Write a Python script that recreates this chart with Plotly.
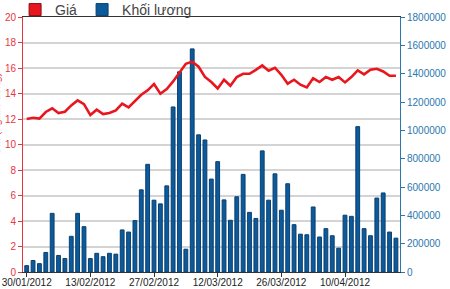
import plotly.graph_objects as go

dates = [
    "30/01/2012", "31/01/2012",
    "01/02/2012", "02/02/2012", "03/02/2012", "06/02/2012", "07/02/2012", "08/02/2012",
    "09/02/2012", "10/02/2012", "13/02/2012", "14/02/2012", "15/02/2012", "16/02/2012",
    "17/02/2012", "20/02/2012", "21/02/2012", "22/02/2012", "23/02/2012", "24/02/2012",
    "27/02/2012", "28/02/2012", "29/02/2012",
    "01/03/2012", "02/03/2012", "05/03/2012", "06/03/2012", "07/03/2012", "08/03/2012",
    "09/03/2012", "12/03/2012", "13/03/2012", "14/03/2012", "15/03/2012", "16/03/2012",
    "19/03/2012", "20/03/2012", "21/03/2012", "22/03/2012", "23/03/2012", "26/03/2012",
    "27/03/2012", "28/03/2012", "29/03/2012", "30/03/2012",
    "03/04/2012", "04/04/2012", "05/04/2012", "06/04/2012", "09/04/2012", "10/04/2012",
    "11/04/2012", "12/04/2012", "13/04/2012", "16/04/2012", "17/04/2012", "18/04/2012",
    "19/04/2012", "20/04/2012",
]

price = [
    12.0, 12.1, 12.03, 12.55, 12.84, 12.47, 12.57, 13.07, 13.46, 13.17,
    12.31, 12.73, 12.39, 12.47, 12.68, 13.2, 12.91, 13.38, 13.9, 14.25,
    14.74, 13.98, 14.35, 14.95, 15.65, 16.33, 16.5, 16.1, 15.3, 14.9,
    14.4, 15.08, 14.61, 15.29, 15.55, 15.55, 15.86, 16.2, 15.79, 16.02,
    15.47, 14.77, 15.08, 14.69, 14.48, 15.19, 14.9, 15.29, 15.08, 15.29,
    14.87, 15.29, 15.81, 15.5, 15.86, 15.94, 15.73, 15.39, 15.39,
]

volume = [
    45000, 81000, 59000, 138000, 414000, 117000, 95000, 252000, 414000, 320000,
    95000, 132000, 108000, 132000, 126000, 297000, 282000, 363000, 580000, 760000,
    507000, 481000, 608000, 1165000, 1413000, 161000, 1575000, 968000, 932000, 656000,
    779000, 509000, 365000, 531000, 689000, 421000, 378000, 855000, 507000, 693000,
    436000, 623000, 334000, 267000, 263000, 459000, 247000, 306000, 256000, 168000,
    401000, 393000, 1026000, 306000, 256000, 522000, 558000, 282000, 239000,
]

tick_dates = ["30/01/2012", "13/02/2012", "27/02/2012", "12/03/2012", "26/03/2012", "10/04/2012"]
price_ticks = [0, 2, 4, 6, 8, 10, 12, 14, 16, 18, 20]
volume_ticks = [0, 200000, 400000, 600000, 800000, 1000000, 1200000, 1400000, 1600000, 1800000]

RED = "#e8161e"
BLUE = "#0b5a9c"
RED_TXT = "#e8353b"
BLUE_TXT = "#2a78ad"

fig = go.Figure()

fig.add_trace(go.Bar(
    x=dates, y=volume, name="Khối lượng",
    marker=dict(color=BLUE, line=dict(width=1, color="#0a3f6e")),
    yaxis="y", legendrank=2, width=0.6,
))
fig.add_trace(go.Scatter(
    x=dates, y=price, name="Giá", mode="lines", line=dict(color=RED, width=2.6),
    yaxis="y2", showlegend=False,
))
# legend-only entry so that "Giá" shows as a square swatch like the original
fig.add_trace(go.Bar(
    x=[None], y=[None], name="Giá", marker=dict(color=RED, line=dict(width=1, color="#8a0d12")),
    yaxis="y2", legendrank=1,
))

fig.update_layout(
    width=450, height=289,
    margin=dict(l=23, r=50, t=17, b=17, autoexpand=False),
    paper_bgcolor="white", plot_bgcolor="white",
    barmode="overlay",
    font=dict(family="Liberation Sans, Arial, sans-serif", size=10, color="#222"),
    showlegend=True,
    legend=dict(
        orientation="h", xref="paper", yref="paper",
        x=-0.021, xanchor="left", y=1.0275, yanchor="middle",
        font=dict(size=14, color="#444"), bgcolor="rgba(0,0,0,0)",
        itemwidth=30, tracegroupgap=0,
    ),
    xaxis=dict(
        type="category", range=[-0.58, 58.64], automargin=False,
        tickmode="array", tickvals=tick_dates, ticktext=tick_dates,
        ticks="outside", ticklen=4, tickcolor="#333", ticklabelstandoff=-3,
        showline=True, linecolor="#333", linewidth=1, mirror=True,
        showgrid=False, tickfont=dict(size=10, color="#222"),
    ),
    yaxis=dict(
        side="right", range=[0, 1800000], tickvals=volume_ticks, automargin=False,
        tickformat="d", showgrid=False, zeroline=False,
        showline=True, linecolor=BLUE_TXT, linewidth=1,
        ticks="outside", ticklen=4, tickcolor=BLUE_TXT,
        tickfont=dict(size=10, color=BLUE_TXT),
    ),
    yaxis2=dict(
        overlaying="y", side="left", range=[0, 20], tickvals=price_ticks, automargin=False,
        showgrid=True, gridcolor="#d4d4d4", gridwidth=1.5, zeroline=False,
        showline=True, linecolor=RED_TXT, linewidth=1,
        ticks="outside", ticklen=4, tickcolor=RED_TXT,
        tickfont=dict(size=10, color=RED_TXT),
    ),
    annotations=[dict(
        text="Giá (nghìn đồng)", textangle=-90, xref="paper", yref="paper",
        x=-0.073, y=0.62, xanchor="center", yanchor="middle", showarrow=False,
        font=dict(size=11, color=RED_TXT),
    )],
)

fig.write_html("out.html")
